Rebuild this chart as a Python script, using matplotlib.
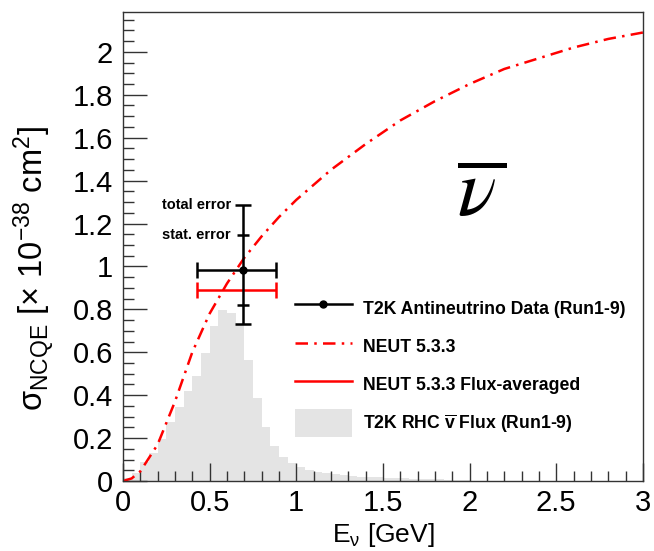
import numpy as np
import matplotlib
matplotlib.use('Agg')
import matplotlib.pyplot as plt
from matplotlib.lines import Line2D
from matplotlib.patches import Patch
from matplotlib.ticker import MultipleLocator

plt.rcParams['font.family'] = ['Liberation Sans', 'DejaVu Sans']
plt.rcParams['mathtext.fontset'] = 'custom'
plt.rcParams['mathtext.rm'] = 'Liberation Sans'
plt.rcParams['mathtext.it'] = 'Liberation Sans:italic'
plt.rcParams['mathtext.bf'] = 'Liberation Sans:bold'

# RHC antineutrino flux (arbitrary norm), 0.05 GeV bins
flux_edges = np.round(np.arange(0, 2.0001, 0.05), 2)
flux_vals = [0.012, 0.039, 0.087, 0.132, 0.198, 0.273, 0.346, 0.420, 0.490, 0.597,
             0.721, 0.795, 0.785, 0.730, 0.566, 0.388, 0.253, 0.164, 0.114, 0.085,
             0.067, 0.051, 0.043, 0.036, 0.031, 0.027, 0.024, 0.021, 0.019, 0.017,
             0.015, 0.013, 0.012, 0.011, 0.010, 0.009, 0.008, 0.007, 0.006, 0.005]

# NEUT 5.3.3 cross section
neut_e = [0.0, 0.05, 0.1, 0.2, 0.3, 0.4, 0.5, 0.6, 0.7, 0.8, 0.9, 1.0, 1.2, 1.4, 1.6,
          1.8, 2.0, 2.2, 2.4, 2.6, 2.8, 3.0]
neut_xs = [0.0, 0.012, 0.045, 0.17, 0.37, 0.60, 0.78, 0.92, 1.04, 1.14, 1.23, 1.31,
           1.45, 1.57, 1.68, 1.77, 1.85, 1.92, 1.97, 2.02, 2.06, 2.09]

# T2K data point
data_e, data_xs = 0.694, 0.985
data_elo, data_ehi = 0.429, 0.883
tot_lo, tot_hi = 0.255, 0.299
stat_err = 0.163
fluxavg_xs = 0.888

xticks = [0, 0.5, 1, 1.5, 2, 2.5, 3]
xticklabels = ['0', '0.5', '1', '1.5', '2', '2.5', '3']
yticks = [0, 0.2, 0.4, 0.6, 0.8, 1.0, 1.2, 1.4, 1.6, 1.8, 2.0]
yticklabels = ['0', '0.2', '0.4', '0.6', '0.8', '1', '1.2', '1.4', '1.6', '1.8', '2']

fig = plt.figure(figsize=(6.54, 5.51), dpi=100)
ax = fig.add_axes([0.188, 0.127, 0.795, 0.851])

ax.stairs(flux_vals, flux_edges, fill=True, color='#e4e4e4', lw=0)
ax.plot(neut_e, neut_xs, color='red', lw=1.8, dashes=(5, 2.5, 1, 2.5))

# flux-averaged prediction
ax.errorbar([data_e], [fluxavg_xs], xerr=[[data_e - data_elo], [data_ehi - data_e]],
            fmt='none', ecolor='red', elinewidth=1.8, capsize=6, capthick=1.8)
# total error
ax.errorbar([data_e], [data_xs], xerr=[[data_e - data_elo], [data_ehi - data_e]],
            yerr=[[tot_lo], [tot_hi]], fmt='o', color='black', ms=5,
            elinewidth=1.8, capsize=6, capthick=1.8)
# stat error ticks
ax.errorbar([data_e], [data_xs], yerr=stat_err, fmt='none', ecolor='black',
            elinewidth=0, capsize=4, capthick=1.8)

ax.text(data_e - 0.07, data_xs + tot_hi, 'total error', ha='right', va='center',
        fontsize=10.5, fontweight='bold')
ax.text(data_e - 0.07, data_xs + stat_err, 'stat. error', ha='right', va='center',
        fontsize=10.5, fontweight='bold')

ax.text(2.07, 1.335, r'$\overline{\nu\,}$', fontsize=58, ha='center', va='center',
        math_fontfamily='stix')

handles = [Line2D([], [], color='black', lw=1.8, marker='o', ms=5),
           Line2D([], [], color='red', lw=1.8, dashes=(5, 2.5, 1, 2.5)),
           Line2D([], [], color='red', lw=1.8),
           Patch(facecolor='#e4e4e4', edgecolor='none')]
labels = ['T2K Antineutrino Data (Run1-9)', 'NEUT 5.3.3', 'NEUT 5.3.3 Flux-averaged',
          r'T2K RHC $\overline{\mathbf{v}}$ Flux (Run1-9)']
ax.legend(handles, labels, loc='upper left', bbox_to_anchor=(0.331, 0.397),
          frameon=False, prop={'weight': 'bold', 'size': 12.7}, handlelength=3.22,
          handletextpad=0.62, handleheight=2.0, labelspacing=0.62,
          borderpad=0, borderaxespad=0)

ax.set_xlim(0, 3)
ax.set_ylim(0, 2.185)
ax.set_xticks(xticks)
ax.set_xticklabels(xticklabels)
ax.set_yticks(yticks)
ax.set_yticklabels(yticklabels)
ax.xaxis.set_minor_locator(MultipleLocator(0.1))
ax.yaxis.set_minor_locator(MultipleLocator(0.05))
ax.tick_params(which='both', direction='in', top=False, right=False, labelsize=21,
               color='#333333', width=1)
ax.tick_params(axis='y', which='major', length=17, pad=7)
ax.tick_params(axis='y', which='minor', length=8)
ax.tick_params(axis='x', which='major', length=13, pad=6)
ax.tick_params(axis='x', which='minor', length=7)
for s in ax.spines.values():
    s.set_color('#333333'); s.set_linewidth(1)

ax.set_xlabel(r'E$_{\mathrm{ν}}$ [GeV]', fontsize=19)
ax.xaxis.set_label_coords(0.5, -0.085)
ax.set_ylabel(r'σ$_{\mathrm{NCQE}}$ [× 10$^{-38}$ cm$^{2}$]', fontsize=23.5)
ax.yaxis.set_label_coords(-0.127, 0.454)

fig.savefig('out.png', dpi=100)
